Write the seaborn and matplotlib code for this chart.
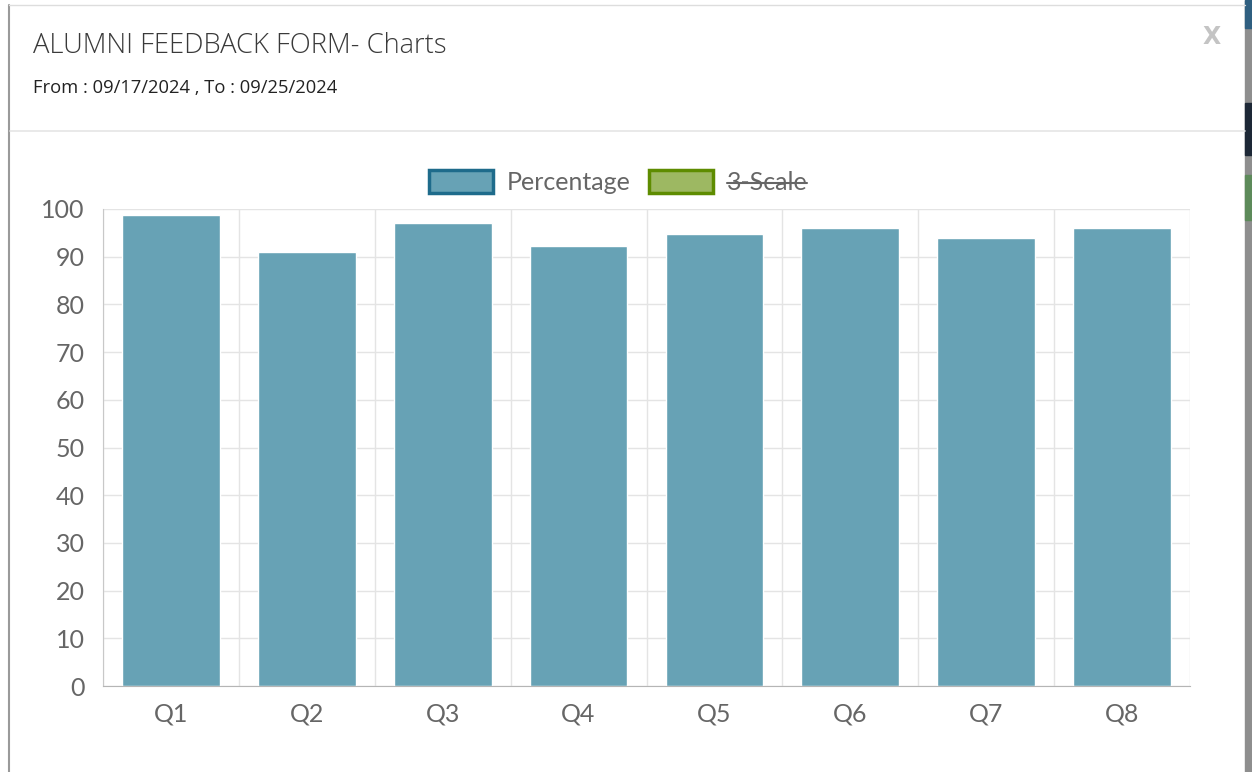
import pandas as pd
import matplotlib.pyplot as plt
import seaborn as sns
from matplotlib.patches import Patch, Rectangle
from matplotlib.lines import Line2D

questions = ["Q1", "Q2", "Q3", "Q4", "Q5", "Q6", "Q7", "Q8"]
percentage = [98.7, 90.9, 97.0, 92.3, 94.8, 96.1, 93.9, 96.1]
y_ticks = [0, 10, 20, 30, 40, 50, 60, 70, 80, 90, 100]
legend_labels = ["Percentage", "3-Scale"]

data = pd.DataFrame({"Question": questions, "Percentage": percentage})

sns.set_style("white")
plt.rcParams["font.family"] = ["Lato", "DejaVu Sans"]

barColor = "#67a2b5"
gridColor = "#e4e4e4"
labelColor = "#666666"

fig = plt.figure(figsize=(12.52, 7.72), dpi=100)
W, H = 1252, 772

# modal frame, header and page behind it
fig.add_artist(Rectangle((1245 / W, 0), 7 / W, 1, transform=fig.transFigure, color="#8e8e8e", zorder=0))
fig.add_artist(Rectangle((1245 / W, 1 - 28 / H), 7 / W, 28 / H, transform=fig.transFigure, color="#2f5f80", zorder=0))
fig.add_artist(Rectangle((1245 / W, 1 - 155 / H), 7 / W, 52 / H, transform=fig.transFigure, color="#1d2836", zorder=0))
fig.add_artist(Rectangle((1245 / W, 1 - 220 / H), 7 / W, 45 / H, transform=fig.transFigure, color="#5d8a5a", zorder=0))
fig.add_artist(Line2D([9 / W, 9 / W], [0, 1 - 5 / H], transform=fig.transFigure, color="#9a9a9a", lw=1.5))
fig.add_artist(Line2D([9 / W, 1245 / W], [1 - 5 / H, 1 - 5 / H], transform=fig.transFigure, color="#dddddd", lw=1))
fig.add_artist(Line2D([10 / W, 1245 / W], [1 - 131 / H, 1 - 131 / H], transform=fig.transFigure, color="#e5e5e5", lw=1.2))

fig.text(33 / W, 1 - 46 / H, "ALUMNI FEEDBACK FORM- Charts", fontsize=19.7, color="#3a3a3a",
         family=["Open Sans", "DejaVu Sans"], fontweight="light", va="center", ha="left")
fig.text(33 / W, 1 - 88 / H, "From : 09/17/2024 , To : 09/25/2024", fontsize=13.2, color="#222222",
         family=["Open Sans", "DejaVu Sans"], va="center", ha="left")
fig.text(1212 / W, 1 - 37 / H, "X", fontsize=17, color="#c4c4c4", fontweight="bold",
         family=["DejaVu Sans"], va="center", ha="center")

ax = fig.add_axes([103 / W, 1 - 686 / H, (1190 - 103) / W, (686 - 209) / H])
sns.barplot(data=data, x="Question", y="Percentage", color=barColor, saturation=1, width=0.72, ax=ax, zorder=3)

ax.set_xlim(-0.5, len(questions) - 0.5)
ax.set_ylim(0, 100)
ax.set_yticks(y_ticks)
ax.set_xticks(range(len(questions)))
ax.set_xticklabels(questions)
ax.set_xticks([i - 0.5 for i in range(len(questions) + 1)], minor=True)
ax.set_xlabel("")
ax.set_ylabel("")

ax.grid(True, axis="y", color=gridColor, lw=1, zorder=0)
ax.grid(True, axis="x", which="minor", color=gridColor, lw=1, zorder=0)
ax.grid(False, axis="x", which="major")
ax.tick_params(axis="y", length=11, width=1, color=gridColor, pad=2, labelsize=18, labelcolor=labelColor)
ax.tick_params(axis="x", which="major", length=0, pad=12, labelsize=18, labelcolor=labelColor)
ax.tick_params(axis="x", which="minor", length=8, width=1, color=gridColor)

for side in ["top", "right"]:
    ax.spines[side].set_visible(False)
ax.spines["left"].set_color("#c8c8c8")
ax.spines["bottom"].set_color("#b5b5b5")
ax.spines["left"].set_zorder(4)
ax.spines["bottom"].set_zorder(4)

handles = [Patch(facecolor=barColor, edgecolor="#1e6b8b", lw=2.5),
           Patch(facecolor="#9db862", edgecolor="#5e8c00", lw=2.5)]
leg = ax.legend(handles, legend_labels, loc="lower center", bbox_to_anchor=(0.474, 1.0), ncol=2,
                frameon=False, fontsize=18, handlelength=2.55, handleheight=1.05, handletextpad=0.55,
                columnspacing=0.75, borderaxespad=0.2)
for t in leg.get_texts():
    t.set_color(labelColor)

# hidden dataset gets a strike-through
fig.canvas.draw()
bb = leg.get_texts()[1].get_window_extent()
x0, y0 = fig.transFigure.inverted().transform((bb.x0, (bb.y0 + bb.y1) / 2))
x1, _ = fig.transFigure.inverted().transform((bb.x1, 0))
fig.add_artist(Line2D([x0, x1], [y0, y0], transform=fig.transFigure, color=labelColor, lw=1.5))

fig.savefig("out.png", dpi=100, facecolor="white")
